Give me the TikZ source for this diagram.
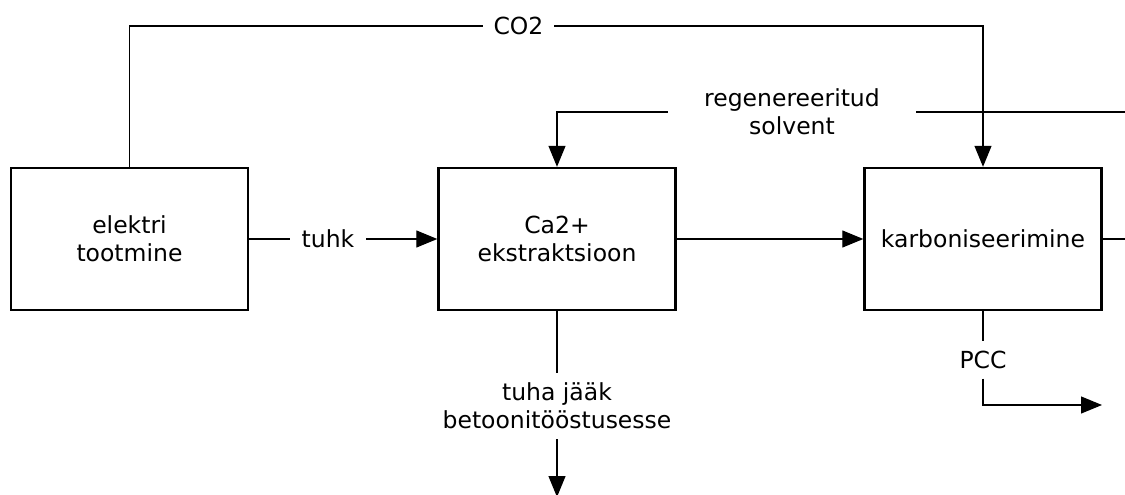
\documentclass[tikz,border=0pt]{standalone}
\usepackage{fontspec}
\setmainfont{DejaVu Sans}
\usetikzlibrary{arrows.meta}
\begin{document}
\begin{tikzpicture}[x=1pt,y=-1pt,
  font=\fontsize{23.5}{28}\selectfont,
  procbox/.style={draw, line width=2.4pt, minimum width=237pt, minimum height=142pt, inner sep=0pt, align=center},
  flowlbl/.style={inner sep=0pt, align=center},
  conn/.style={line width=1.2pt},
  flowarrow/.style={conn, -{Triangle[length=21pt,width=17pt]}}
]
\useasboundingbox (0,0) rectangle (1125,495);
% process boxes
\node[procbox] (e) at (129.5,239) {elektri\\tootmine};
\node[procbox] (c) at (557,239) {Ca2+\\ekstraktsioon};
\node[procbox] (k) at (983,239) {karboniseerimine};
% labels
\node[flowlbl, minimum width=71pt, minimum height=20pt] (co2) at (518.5,26) {CO2};
\node[flowlbl, minimum width=76pt, minimum height=20pt] (tuhk) at (328,239) {tuhk};
\node[flowlbl, minimum width=248pt, minimum height=50pt] (solv) at (792,112) {regenereeritud\\solvent};
\node[flowlbl, minimum width=120pt, minimum height=66pt] (tuha) at (557,406) {tuha jääk\\betoonitööstusesse};
\node[flowlbl, minimum width=40pt, minimum height=37pt] (pcc) at (983,360) {PCC};
% free ends
\coordinate (solvin) at (1125,112);
\coordinate (kout) at (1125,239);
\coordinate (tuhaend) at (557,497);
\coordinate (pccend) at (1102,405);
% connectors
\draw[conn] (e.north) |- (co2.west);
\draw[flowarrow] (co2.east) -| (k.north);
\draw[conn] (e.east) -- (tuhk.west);
\draw[flowarrow] (tuhk.east) -- (c.west);
\draw[flowarrow] (c.east) -- (k.west);
\draw[conn] (k.east) -- (kout);
\draw[conn] (solvin) -- (solv.east);
\draw[flowarrow] (solv.west) -| (c.north);
\draw[conn] (c.south) -- (tuha.north);
\draw[flowarrow] (tuha.south) -- (tuhaend);
\draw[conn] (k.south) -- (pcc.north);
\draw[flowarrow] (pcc.south) |- (pccend);
\end{tikzpicture}
\end{document}
